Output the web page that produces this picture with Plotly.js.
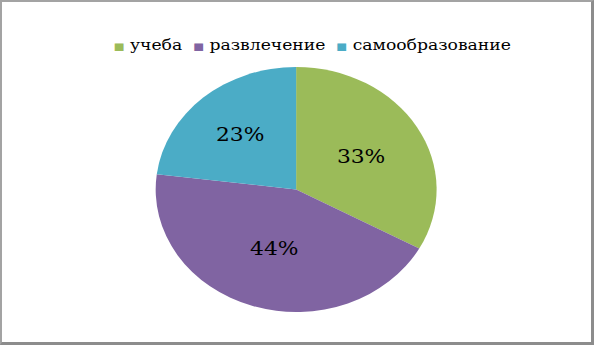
<!DOCTYPE html>
<html>
<head>
<meta charset="utf-8">
<script src="https://cdn.plot.ly/plotly-3.0.1.min.js"></script>
<style>
  html, body { margin: 0; padding: 0; background: #fff; }
  #wrap { position: relative; width: 594px; height: 345px; overflow: hidden; background: #fff; }
  #chart { position: absolute; left: 0; top: 0; width: 518px; height: 345px; transform: scaleX(1.1467); transform-origin: 0 0; }
  #frame { position: absolute; left: 0; top: 0; width: 594px; height: 345px; box-sizing: border-box;
           border-top: 2px solid #a3a3a3; border-left: 2px solid #a3a3a3;
           border-right: 3px solid #8c8c8c; border-bottom: 3px solid #8c8c8c; pointer-events: none; }
</style>
</head>
<body>
<div id="wrap">
  <div id="chart"></div>
  <div id="frame"></div>
</div>
<script>
const categories = ["учеба", "развлечение", "самообразование"];
const values = [33, 44, 23];
const colors = ["#9BBB59", "#8064A2", "#4BACC6"];

const FONT = "DejaVu Serif";

const trace = {
  type: "pie",
  labels: categories,
  values: values,
  sort: false,
  direction: "clockwise",
  rotation: 0,
  marker: { colors: colors, line: { width: 0 } },
  textinfo: "percent",
  textposition: "inside",
  insidetextorientation: "horizontal",
  textfont: { family: FONT, size: 19, color: "#000" },
  domain: { x: [0.2616, 0.7355], y: [0.0957, 0.8058] },
  hoverinfo: "label+percent",
  showlegend: false
};

const legendText = categories.map((c, i) =>
  '<span style="color:' + colors[i] + ';font-size:10px">■</span> ' + c
).join('  ');

const layout = {
  width: 518,
  height: 345,
  margin: { l: 0, r: 0, t: 0, b: 0 },
  paper_bgcolor: "#fff",
  plot_bgcolor: "#fff",
  showlegend: false,
  font: { family: FONT, color: "#000" },
  annotations: [{
    xref: "paper", yref: "paper",
    x: 0.526, y: 0.87, xanchor: "center", yanchor: "middle",
    showarrow: false,
    text: legendText,
    font: { family: FONT, size: 15, color: "#000" }
  }]
};

Plotly.newPlot("chart", [trace], layout, { staticPlot: true, displayModeBar: false });
</script>
</body>
</html>
